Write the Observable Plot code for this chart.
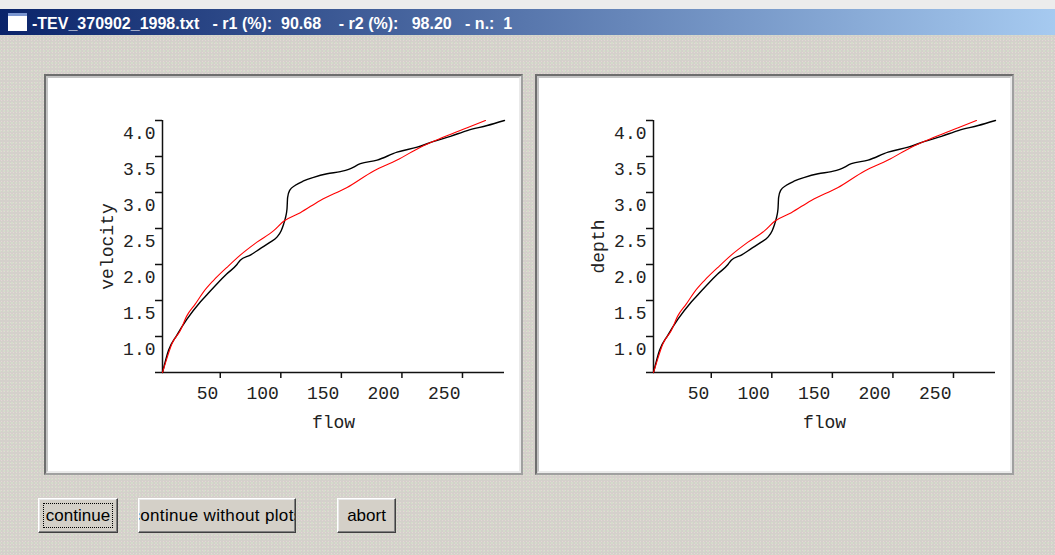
<!DOCTYPE html>
<html><head><meta charset="utf-8">
<script src="https://cdn.jsdelivr.net/npm/d3@7"></script>
<script src="https://cdn.jsdelivr.net/npm/@observablehq/plot@0.6"></script>
<style>
html,body{margin:0;padding:0;}
body{width:1055px;height:555px;background-color:#d4d0cb;position:relative;overflow:hidden;font-family:"Liberation Sans",Arial,sans-serif;
  background-image:radial-gradient(circle,#e4d8d6 0.7px,transparent 0.8px),radial-gradient(circle,#d4dccb 0.7px,transparent 0.8px);
  background-size:3px 3px,4px 4px;background-position:0 0,2px 1px;}
#topstrip{position:absolute;left:0;top:0;width:1055px;height:9px;background:#ececec;}
#titlebar{position:absolute;left:0;top:9px;width:1055px;height:26px;background:linear-gradient(to right,#0a246a,#a6caf0);}
#icon{position:absolute;left:8px;top:13px;width:19px;height:18px;background:#fff;border-top:3px solid #7a96d0;box-sizing:border-box;}
#title{position:absolute;left:32px;top:12px;height:24px;line-height:24px;color:#fff;font-weight:bold;font-size:16px;white-space:pre;}
.panel{position:absolute;top:74px;width:479px;height:401px;box-sizing:border-box;border:2px solid;border-color:#6e6e6e #a0a0a0 #a0a0a0 #6e6e6e;background:#fff;}
.panel .inner{position:absolute;left:0;top:0;width:475px;height:397px;box-sizing:border-box;border:2px solid;border-color:#c4c4c4 #eaeaea #eaeaea #c4c4c4;}
.panel svg{position:absolute;left:2px;top:2px;}
.btn{position:absolute;top:498px;height:35px;box-sizing:border-box;border:1px solid;border-color:#fff #404040 #404040 #fff;box-shadow:inset -1px -1px #808080, inset 1px 1px #e8e8e8;background:#d4d0c8;font-size:17px;overflow:hidden;white-space:nowrap;color:#000;}
.btn span{position:absolute;left:50%;top:50%;transform:translate(-50%,-52%);}
.focus{position:absolute;left:4px;top:4px;right:4px;bottom:4px;border:1px dotted #000;}
</style></head>
<body>
<div id="topstrip"></div>
<div id="titlebar"></div>
<div id="icon"></div>
<div id="title"></div>
<div class="panel" id="p1" style="left:44px"><div class="inner"></div></div>
<div class="panel" id="p2" style="left:535px"><div class="inner"></div></div>
<div class="btn" style="left:38px;width:80px"><div class="focus"></div><span>continue</span></div>
<div class="btn" style="left:138px;width:158px"><span style="letter-spacing:0.35px">continue without plots</span></div>
<div class="btn" style="left:337px;width:59px"><span>abort</span></div>
<script>
// ---- data ----
const fileName = "-TEV_370902_1998.txt";
const r1 = "90.68";
const r2 = "98.20";
const nRun = "1";

// observed curve (black)
const flowObs = [2.3, 7.3, 14.2, 22.5, 33.5, 39, 47.2, 55.5, 63.8, 66.5, 74.8, 83, 91.3, 96.8, 100.3, 102.3, 103.7, 105.1, 105.6, 107.3, 112, 118.8, 127.1, 138.2, 149.2, 156, 165.7, 179.5, 196, 212.6, 226.3, 240, 253.9, 270.4, 284.7];
const valObs  = [0.5, 0.81, 1.02, 1.24, 1.48, 1.58, 1.73, 1.87, 2.00, 2.06, 2.13, 2.22, 2.31, 2.38, 2.47, 2.56, 2.64, 2.77, 2.93, 3.03, 3.10, 3.16, 3.21, 3.26, 3.29, 3.32, 3.40, 3.45, 3.56, 3.63, 3.71, 3.78, 3.86, 3.93, 4.0];

// fitted curve (red)
const flowFit = [2.3, 4.5, 10.1, 16.9, 22.5, 29.3, 36.2, 44.5, 55.5, 66.5, 80.3, 94.1, 102.3, 116.1, 132.6, 154.7, 176.7, 196, 215.3, 234.5, 253.9, 269];
const valFit  = [0.5, 0.62, 0.90, 1.08, 1.29, 1.45, 1.62, 1.78, 1.96, 2.13, 2.31, 2.47, 2.60, 2.72, 2.89, 3.07, 3.30, 3.45, 3.63, 3.77, 3.90, 4.0];

const flowDomain = [2.3, 284.7];
const valDomain = [0.5, 4.0];
const yTicks = [0.5, 1.0, 1.5, 2.0, 2.5, 3.0, 3.5, 4.0];
const yTickLabels = [1.0, 1.5, 2.0, 2.5, 3.0, 3.5, 4.0];
const xTicks = [50, 100, 150, 200, 250];
const yLabels = ["velocity", "depth"];
const xLabel = "flow";

document.getElementById("title").textContent =
  `${fileName}   - r1 (%):  ${r1}    - r2 (%):   ${r2}   - n.:  ${nRun}`;

const obs = flowObs.map((f, i) => ({flow: f, val: valObs[i]}));
const fit = flowFit.map((f, i) => ({flow: f, val: valFit[i]}));

function makePlot(yLabel) {
  return Plot.plot({
    width: 471, height: 393,
    marginLeft: 114, marginRight: 15, marginTop: 42, marginBottom: 99,
    style: {background: "white", color: "black", fontFamily: "'Liberation Mono', 'Courier New', monospace", fontSize: "18px"},
    x: {domain: flowDomain},
    y: {domain: valDomain},
    marks: [
      Plot.ruleX([flowDomain[0]], {stroke: "#111", strokeWidth: 1.5}),
      Plot.ruleY([valDomain[0]], {stroke: "#111", strokeWidth: 1.5}),
      Plot.axisY({ticks: yTicks, tickSize: 7, fill: "none", stroke: "#111", strokeWidth: 1.5, label: null}),
      Plot.axisY({ticks: yTickLabels, tickSize: 0, tickPadding: 7, dy: 13, fill: "#222", tickFormat: d => d.toFixed(1), label: null}),
      Plot.axisX({ticks: xTicks, tickSize: 6, fill: "none", stroke: "#111", strokeWidth: 1.5, label: null}),
      Plot.axisX({ticks: xTicks, tickSize: 0, tickPadding: 14, textAnchor: "end", dx: -2, fill: "#222", tickFormat: d => String(d), label: null}),
      Plot.line(obs, {x: "flow", y: "val", stroke: "#000", strokeWidth: 1.4, curve: "monotone-x"}),
      Plot.line(fit, {x: "flow", y: "val", stroke: "#ff0000", strokeWidth: 1.1, curve: "monotone-x"}),
      Plot.text([yLabel], {frameAnchor: "left", dx: -55, rotate: -90, textAnchor: "middle", lineAnchor: "middle", fill: "#222"}),
      Plot.text([xLabel], {frameAnchor: "bottom", dy: 50, textAnchor: "middle", lineAnchor: "middle", fill: "#222"})
    ]
  });
}

document.getElementById("p1").appendChild(makePlot(yLabels[0]));
document.getElementById("p2").appendChild(makePlot(yLabels[1]));
</script>
</body></html>
